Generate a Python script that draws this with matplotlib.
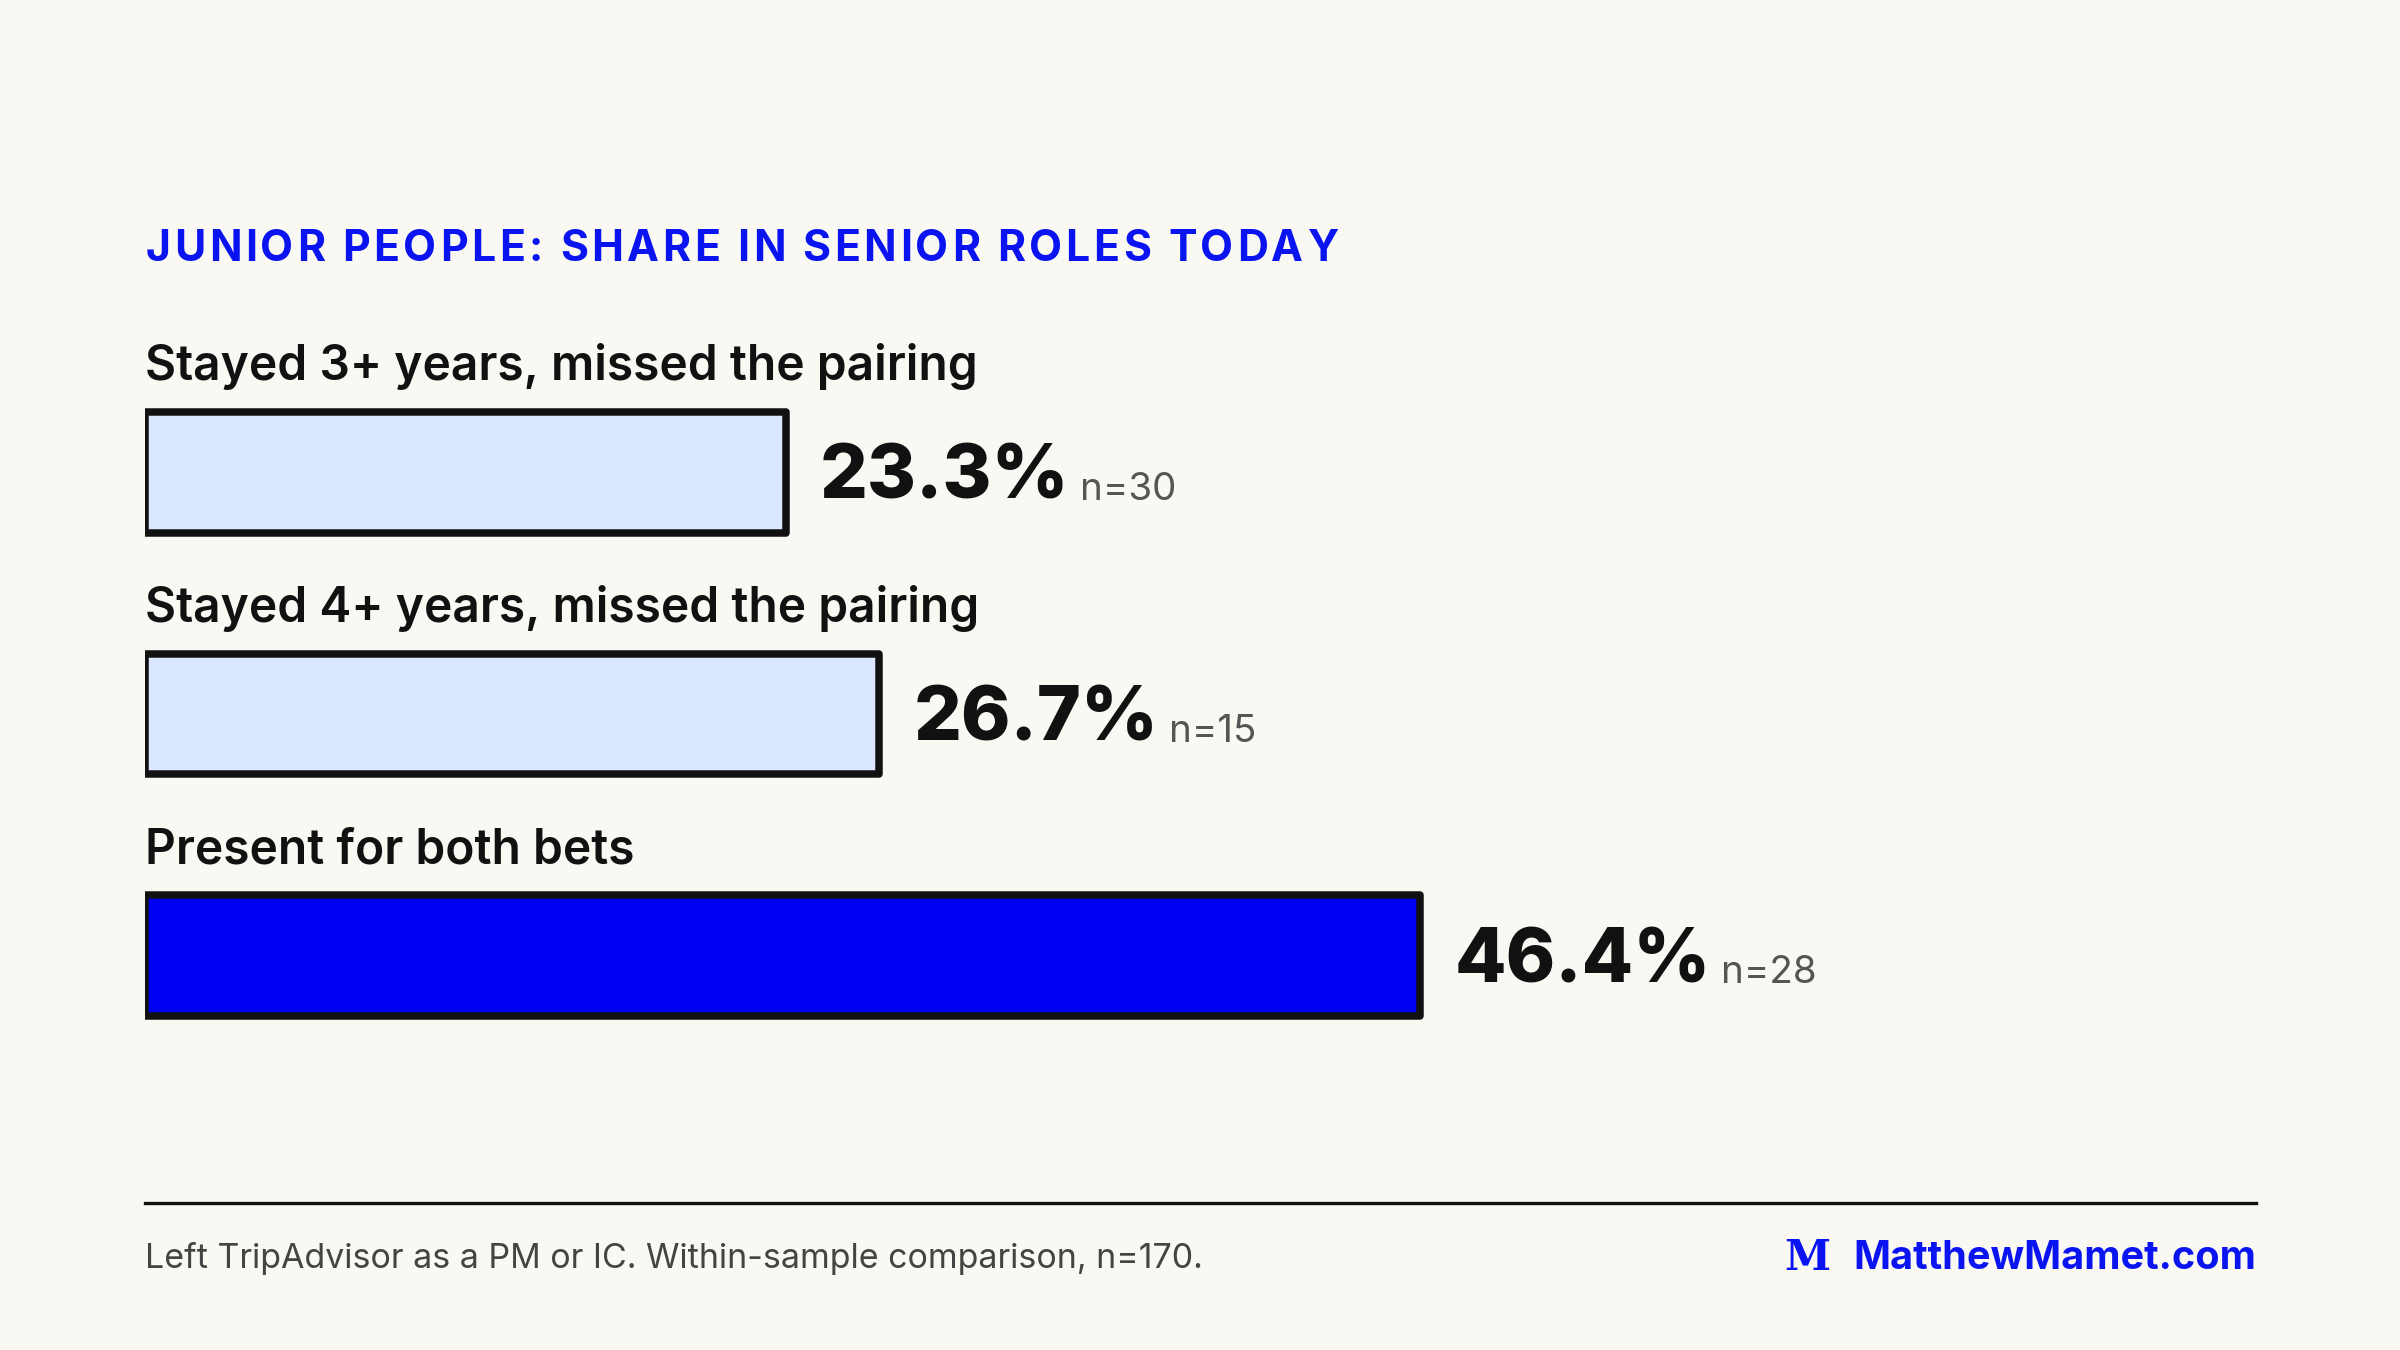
import matplotlib.pyplot as plt

labels = ['Stayed 3+ years, missed the pairing',
          'Stayed 4+ years, missed the pairing',
          'Present for both bets']
values = [23.3, 26.7, 46.4]
counts = [30, 15, 28]
fills = ['#dce8ff', '#dce8ff', '#0000f2']
title = 'JUNIOR PEOPLE: SHARE IN SENIOR ROLES TODAY'

BG = '#f9f8f2'
BLUE = '#0a14f0'
W, H = 1568, 882  # layout grid

plt.rcParams['font.family'] = ['Inter', 'DejaVu Sans']

fig = plt.figure(figsize=(16, 9), dpi=150, facecolor=BG)

# letter-spaced title, drawn glyph by glyph
ann = fig.text(95 / W, 1 - 163 / H, title[0], color=BLUE, fontsize=20.5,
               fontweight='bold', va='center', ha='left')
for ch in title[1:]:
    ann = fig.add_artist(plt.Annotation(ch, xy=(1, 0.5), xycoords=ann,
                                        xytext=(1.7, 0), textcoords='offset points',
                                        color=BLUE, fontsize=20.5, fontweight='bold',
                                        va='center', ha='left'))

ax = fig.add_axes([95 / W, 1 - 700 / H, 1380 / W, 450 / H])
ax.set_facecolor('none')
ax.set_xlim(0, 1380 / 17.95)
ax.set_ylim(2.478, -0.37)
ax.axis('off')

ys = list(range(len(values)))
ax.barh(ys, values, height=0.5, color=fills, edgecolor='#111111',
        linewidth=3.6, joinstyle='round')

for y, lab, v, n in zip(ys, labels, values, counts):
    ax.text(0, y - 0.435, lab, fontsize=23, fontweight='semibold',
            color='#111111', va='center', ha='left')
    t = ax.text(v + 1.25, y + 0.03, f'{v}%', fontsize=36, fontweight='heavy',
                color='#111111', va='center', ha='left')
    ax.annotate(f'n={n}', xy=(1, 0.1), xycoords=t, xytext=(5, 0),
                textcoords='offset points', fontsize=18.5, color='#555555',
                va='bottom', ha='left')

fig.add_artist(plt.Line2D([95 / W, 1474 / W], [1 - 786 / H] * 2,
                          color='#111111', linewidth=1.6))
fig.text(95 / W, 1 - 822 / H,
         'Left TripAdvisor as a PM or IC. Within-sample comparison, n=170.',
         fontsize=16.3, color='#444444', va='center', ha='left')
fig.text(1474 / W, 1 - 822 / H, 'MatthewMamet.com', fontsize=19,
         fontweight='bold', color=BLUE, va='center', ha='right')
fig.text(1166 / W, 1 - 822 / H, 'M', fontsize=20, fontweight='bold',
         family='DejaVu Serif', color=BLUE, va='center', ha='left')

fig.savefig('out.png', dpi=150, facecolor=BG)
